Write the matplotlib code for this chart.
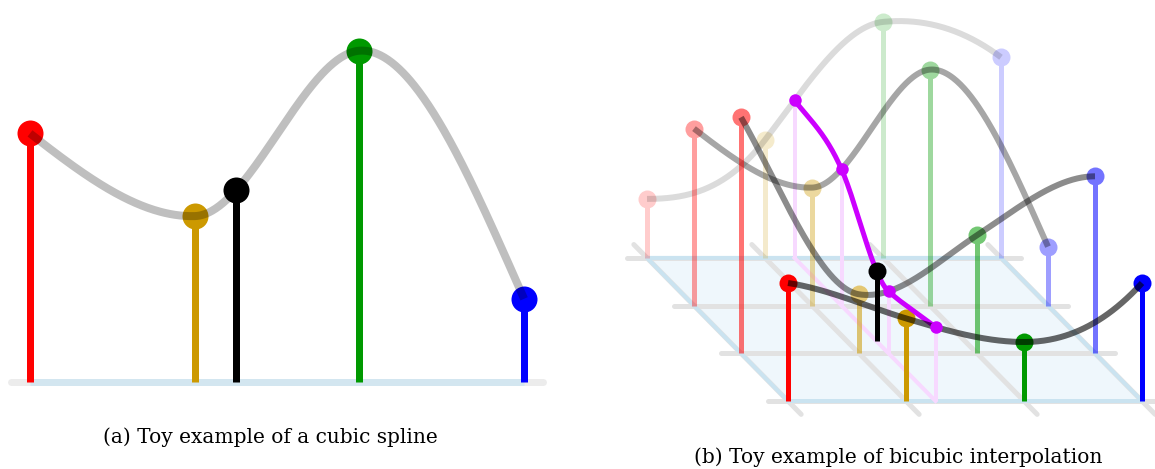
import numpy as np
import matplotlib.pyplot as plt
from matplotlib.colors import to_rgb

W, H, DPI = 1155, 469, 100
PX = 72 / DPI  # points per pixel

# 1-D cubic spline: knot values and knot slopes
spline_values = [3, 2, 4, 1]
spline_slopes = [-1.55, 0.05, 0.15, -4.5]
query_x = 1.25

# 2-D grid of samples, rows from front (0) to back (3)
grid_values = [
    [2, 1.4, 1, 2],
    [4, 1, 2, 3],
    [3, 2, 4, 1],
    [1, 2, 4, 3.4],
]
grid_slopes = [
    [-0.3, -0.6, 0.0, 2.2],
    [-3.5, -0.32, 1.3, 0.0],
    [-1.55, 0.05, 0.15, -4.5],
    [0.0, 2.6, 0.2, -1.5],
]
column_slopes = [-0.2, -0.1, 1.0, 0.2]
query_xy = (1.25, 1.25)

knot_colors = ["#ff0000", "#cc9900", "#009900", "#0000ff"]
row_fade = [1.0, 0.55, 0.38, 0.2]
row_curve_alpha = [0.6, 0.45, 0.35, 0.14]
MAGENTA = "#cc00ff"


def hermite(y, m, t):
    y = np.asarray(y, float)
    m = np.asarray(m, float)
    t = np.atleast_1d(np.asarray(t, float))
    k = np.clip(np.floor(t).astype(int), 0, len(y) - 2)
    s = t - k
    h00 = 2 * s**3 - 3 * s**2 + 1
    h10 = s**3 - 2 * s**2 + s
    h01 = -2 * s**3 + 3 * s**2
    h11 = s**3 - s**2
    return h00 * y[k] + h10 * m[k] + h01 * y[k + 1] + h11 * m[k + 1]


def fade(color, a):
    return tuple(1 - a * (1 - c) for c in to_rgb(color))


def overlay_axes(fig, x0, y0, sx, sy):
    # full-figure axes whose data origin sits at pixel (x0, y0)
    ax = fig.add_axes([0, 0, 1, 1])
    ax.set_xlim(-x0 / sx, (W - x0) / sx)
    ax.set_ylim((y0 - H) / sy, y0 / sy)
    ax.axis("off")
    ax.patch.set_alpha(0)
    return ax


fig = plt.figure(figsize=(W / DPI, H / DPI), dpi=DPI)

# ---- (a) cubic spline ----
ax = overlay_axes(fig, 30, 381.5, 164.7, 82.7)
n = len(spline_values)
ax.plot([-0.115, n - 1 + 0.115], [0, 0], color="#ececec", lw=7 * PX,
        solid_capstyle="round", zorder=1)
ax.plot([0, n - 1], [0, 0], color="#d3e6f0", lw=7 * PX,
        solid_capstyle="butt", zorder=1.1)
for i, v in enumerate(spline_values):
    ax.plot([i, i], [0, v], color=knot_colors[i], lw=7 * PX,
            solid_capstyle="butt", zorder=2)
    ax.plot(i, v, "o", ms=26 * PX, color=knot_colors[i], mew=0, zorder=3)
qv = hermite(spline_values, spline_slopes, query_x)[0]
ax.plot([query_x, query_x], [0, qv], color="black", lw=7 * PX,
        solid_capstyle="butt", zorder=2)
ax.plot(query_x, qv, "o", ms=26 * PX, color="black", mew=0, zorder=3)
ts = np.linspace(0, n - 1, 400)
ax.plot(ts, hermite(spline_values, spline_slopes, ts), color="black",
        alpha=0.25, lw=8 * PX, solid_capstyle="butt", zorder=4)

# ---- (b) bicubic interpolation ----
ax = overlay_axes(fig, 788, 401, 118, 118)
SHEAR, DEPTH, HEIGHT = -47 / 118, 47.7 / 118, 59 / 118


def proj(i, j, h=0.0):
    i, j, h = np.broadcast_arrays(np.asarray(i, float), np.asarray(j, float),
                                  np.asarray(h, float))
    return i + SHEAR * j, DEPTH * j + HEIGHT * h


z = [1]


def nz():
    z[0] += 0.01
    return z[0]


rows, cols = len(grid_values), len(grid_values[0])
ax.fill(*proj([0, cols - 1, cols - 1, 0], [0, 0, rows - 1, rows - 1]),
        color="#eff7fc", lw=0, zorder=nz())
for j in range(rows):
    ax.plot(*proj([-0.17, cols - 1 + 0.17], [j, j]), color="#e2e2e2",
            lw=5 * PX, solid_capstyle="round", zorder=nz())
for i in range(cols):
    ax.plot(*proj([i, i], [-0.28, rows - 1 + 0.28]), color="#e2e2e2",
            lw=5 * PX, solid_capstyle="round", zorder=nz())
ax.plot(*proj([0, cols - 1, cols - 1, 0, 0], [0, 0, rows - 1, rows - 1, 0]),
        color="#cae3f0", lw=4 * PX, zorder=nz())

qi, qj = query_xy
mag_vals = [hermite(grid_values[j], grid_slopes[j], qi)[0] for j in range(rows)]
faint_mag = fade(MAGENTA, 0.15)
ax.plot(*proj([qi, qi], [0, rows - 1]), color=faint_mag, lw=4 * PX, zorder=nz())
for j, v in enumerate(mag_vals):
    ax.plot(*proj([qi, qi], [j, j], [0, v]), color=faint_mag, lw=4 * PX,
            solid_capstyle="butt", zorder=nz())


def draw_knots(j):
    for i, v in enumerate(grid_values[j]):
        ax.plot(*proj([i, i], [j, j], [0, v]), color=knot_colors[i],
                alpha=row_fade[j], lw=5 * PX, solid_capstyle="butt", zorder=nz())
        x, y = proj(i, j, v)
        ax.plot(x, y, "o", ms=18 * PX, color=fade(knot_colors[i], row_fade[j]),
                mew=0, zorder=nz())


def draw_row_curve(j):
    ts = np.linspace(0, cols - 1, 300)
    ax.plot(*proj(ts, j, hermite(grid_values[j], grid_slopes[j], ts)),
            color="black", alpha=row_curve_alpha[j], lw=6 * PX,
            solid_capstyle="butt", zorder=nz())


for j in range(rows - 1, 0, -1):
    draw_knots(j)
    draw_row_curve(j)
draw_knots(0)

js = np.linspace(0, rows - 1, 300)
ax.plot(*proj(qi, js, hermite(mag_vals, column_slopes, js)), color=MAGENTA,
        lw=5 * PX, solid_capstyle="round", zorder=nz())
bv = hermite(mag_vals, column_slopes, qj)[0]
ax.plot(*proj([qi, qi], [qj, qj], [0, bv]), color="black", lw=5 * PX,
        solid_capstyle="butt", zorder=nz())
x, y = proj(qi, qj, bv)
ax.plot(x, y, "o", ms=18 * PX, color="black", mew=0, zorder=nz())
draw_row_curve(0)
for j, v in enumerate(mag_vals):
    x, y = proj(qi, j, v)
    ax.plot(x, y, "o", ms=12.5 * PX, color=MAGENTA, mew=0, zorder=nz())

cap = dict(ha="center", va="center", family="DejaVu Serif", fontsize=14.5)
fig.text(270 / W, 1 - 437 / H, "(a) Toy example of a cubic spline", **cap)
fig.text(898 / W, 1 - 457 / H, "(b) Toy example of bicubic interpolation", **cap)

fig.savefig("out.png", dpi=DPI)
